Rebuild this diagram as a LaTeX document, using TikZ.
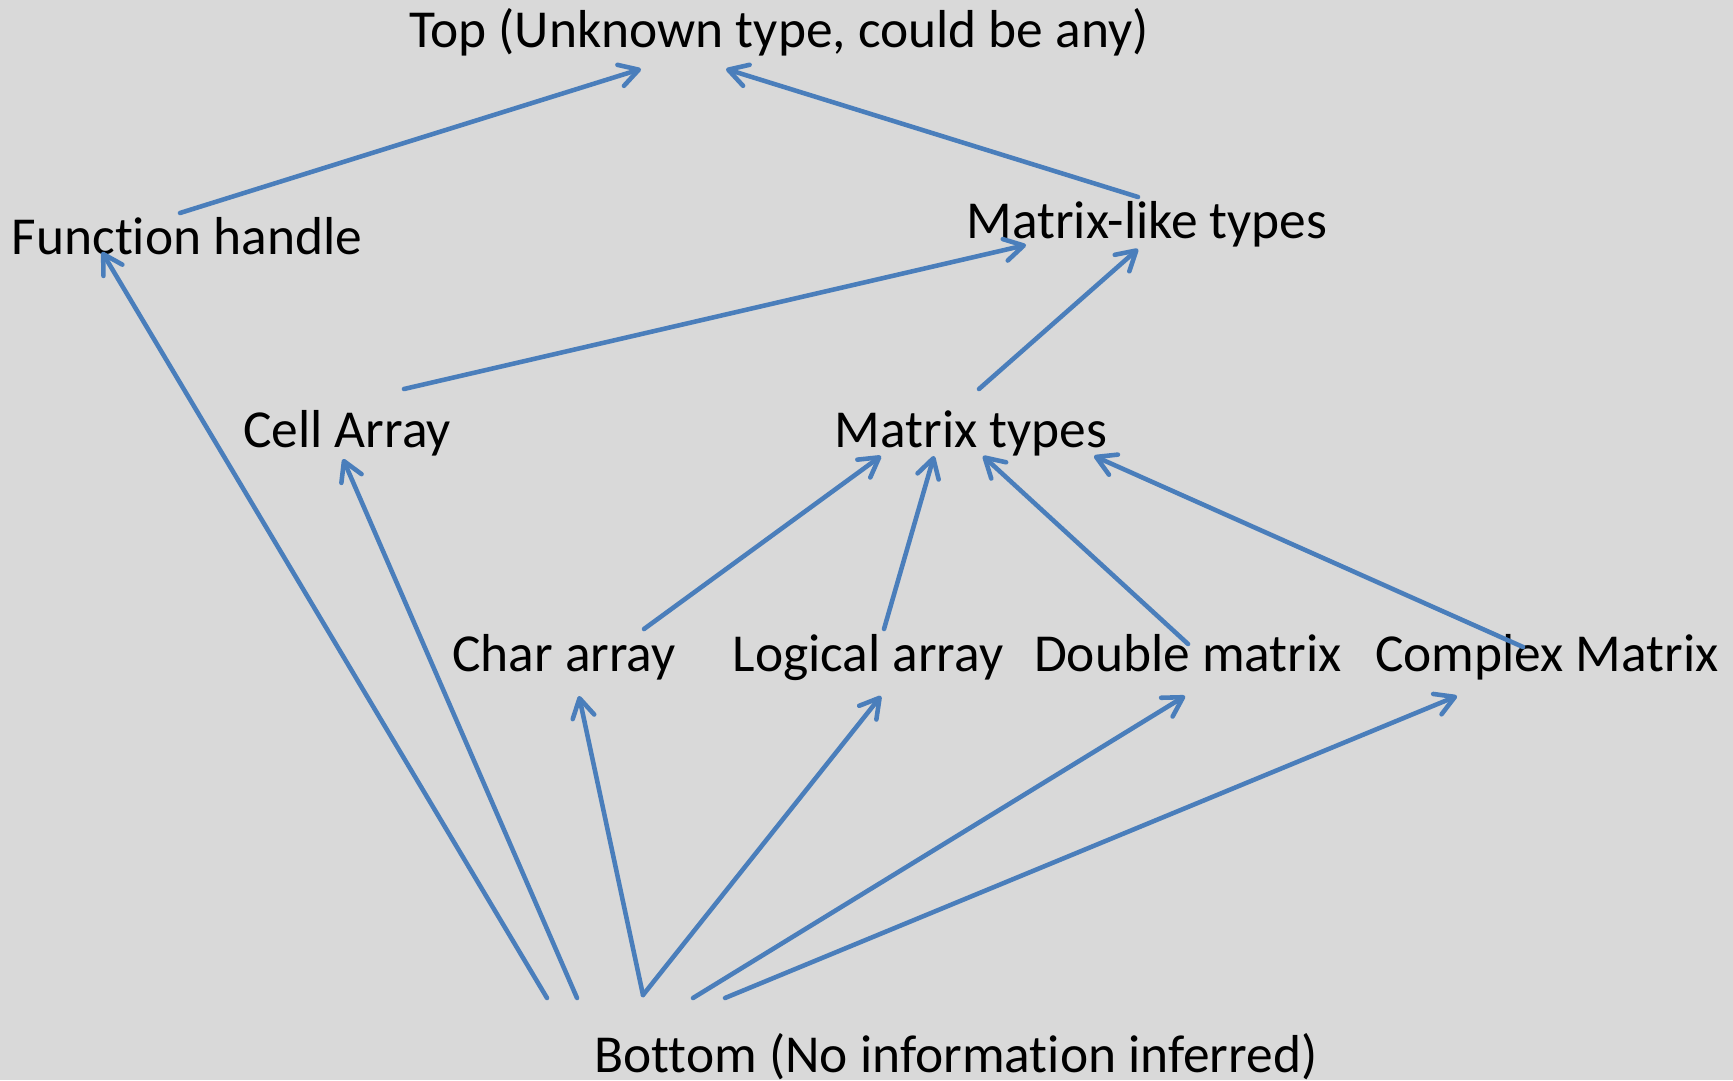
\documentclass[tikz,border=0pt]{standalone}
\usepackage{fontspec}
\setmainfont[RawFeature={-liga;-clig;-calt;-dlig}]{Carlito}
\usepackage{tikz}
\usetikzlibrary{arrows.meta, positioning}
\definecolor{latblue}{HTML}{4A7EBB}
\definecolor{bggray}{HTML}{D9D9D9}

\begin{document}
\begin{tikzpicture}[
  lbl/.style={inner sep=0pt, anchor=base, font=\fontsize{15.2}{18}\selectfont},
  arrow/.style={-{Straight Barb[length=1.9mm, width=2.2mm, round]}, line width=1.3pt, latblue, line cap=round}]

\fill[bggray] (0,0) rectangle (17.33,-10.80);
\useasboundingbox (0,0) rectangle (17.33,-10.80);

\node[lbl] (top) at (7.79,-0.48) {Top (Unknown type, could be any)};
\node[lbl] (fh) at (1.87,-2.55) {Funct\kern0pt ion handle};
\node[lbl] (mlt) at (11.47,-2.39) {Matrix-like types};
\node[lbl] (cell) at (3.47,-4.47) {Cell Array};
\node[lbl] (mt) at (9.71,-4.47) {Matrix types};
\node[lbl] (chr) at (5.64,-6.71) {Char array};
\node[lbl] (lgc) at (8.68,-6.71) {Logical array};
\node[lbl] (dbl) at (11.88,-6.71) {Double matrix};
\node[lbl] (cpx) at (15.47,-6.71) {Complex Matrix};
\node[lbl] (bot) at (9.56,-10.72) {Bottom (No informat\kern0pt ion inferred)};

\draw[arrow] ([shift={(-0.07,0.42)}]fh.base) -- ([shift={(-1.38,-0.21)}]top.base);
\draw[arrow] ([shift={(-0.09,0.42)}]mlt.base) -- ([shift={(-0.53,-0.21)}]top.base);
\draw[arrow] ([shift={(0.57,0.58)}]cell.base) -- ([shift={(-1.21,-0.06)}]mlt.base);
\draw[arrow] ([shift={(0.08,0.58)}]mt.base) -- ([shift={(-0.09,-0.10)}]mlt.base);
\draw[arrow] ([shift={(0.80,0.42)}]chr.base) -- ([shift={(-0.90,-0.09)}]mt.base);
\draw[arrow] ([shift={(0.16,0.42)}]lgc.base) -- ([shift={(-0.37,-0.09)}]mt.base);
\draw[arrow] ([shift={(0,0.27)}]dbl.base) -- ([shift={(0.12,-0.09)}]mt.base);
\draw[arrow] ([shift={(-0.24,0.24)}]cpx.base) -- ([shift={(1.23,-0.09)}]mt.base);
\draw[arrow] ([shift={(-4.09,0.74)}]bot.base) -- ([shift={(-0.85,0.03)}]fh.base);
\draw[arrow] ([shift={(-3.79,0.74)}]bot.base) -- ([shift={(-0.04,-0.12)}]cell.base);
\draw[arrow] ([shift={(-3.13,0.77)}]bot.base) -- ([shift={(0.15,-0.25)}]chr.base);
\draw[arrow] ([shift={(-3.13,0.77)}]bot.base) -- ([shift={(0.13,-0.25)}]lgc.base);
\draw[arrow] ([shift={(-2.63,0.74)}]bot.base) -- ([shift={(-0.03,-0.25)}]dbl.base);
\draw[arrow] ([shift={(-2.31,0.74)}]bot.base) -- ([shift={(-0.90,-0.25)}]cpx.base);
\end{tikzpicture}
\end{document}
